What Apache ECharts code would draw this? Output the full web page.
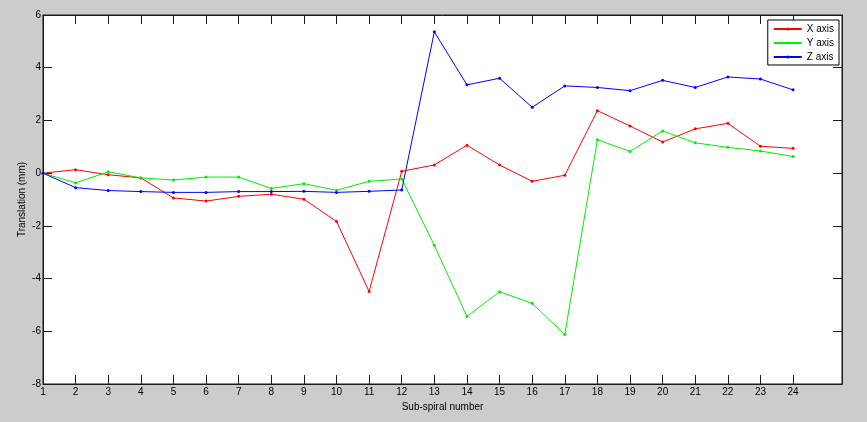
<!DOCTYPE html>
<html>
<head>
<meta charset="utf-8">
<script src="https://cdn.jsdelivr.net/npm/echarts@6/dist/echarts.min.js"></script>
<style>
html,body{margin:0;padding:0;background:#cccccc;}
#chart{width:867px;height:422px;}
</style>
</head>
<body>
<div id="chart"></div>
<script>
var subSpirals = [1,2,3,4,5,6,7,8,9,10,11,12,13,14,15,16,17,18,19,20,21,22,23,24];
var xAxisVals = [0,0.13,-0.06,-0.18,-0.94,-1.06,-0.88,-0.80,-0.99,-1.83,-4.49,0.07,0.31,1.06,0.31,-0.31,-0.08,2.37,1.79,1.18,1.68,1.89,1.02,0.94];
var yAxisVals = [0,-0.37,0.05,-0.18,-0.26,-0.15,-0.15,-0.58,-0.40,-0.65,-0.31,-0.22,-2.74,-5.44,-4.50,-4.94,-6.12,1.27,0.82,1.60,1.15,0.98,0.84,0.63];
var zAxisVals = [0,-0.55,-0.66,-0.70,-0.73,-0.73,-0.70,-0.70,-0.69,-0.73,-0.69,-0.64,5.36,3.35,3.60,2.50,3.31,3.25,3.13,3.52,3.25,3.65,3.57,3.16];
var seriesNames = ['X axis','Y axis','Z axis'];
var seriesColors = ['#ff0000','#00ee00','#0000ff'];

function pairs(vals){ return subSpirals.map(function(x,i){ return [x, vals[i]]; }); }
var allVals = [xAxisVals, yAxisVals, zAxisVals];

var font = 'Liberation Sans, Arial, sans-serif';
var chart = echarts.init(document.getElementById('chart'), null, {renderer:'canvas'});
var axLine = {show:true, onZero:false, lineStyle:{color:'#1a1a1a', width:1}};
var tick = {show:true, inside:true, length:9, lineStyle:{color:'#1a1a1a', width:1}};

chart.setOption({
  animation:false,
  backgroundColor:'#cccccc',
  textStyle:{fontFamily:font},
  grid:{left:43, top:15, right:25, bottom:38, show:true, backgroundColor:'#ffffff', borderColor:'#1a1a1a', borderWidth:1},
  legend:{
    data:seriesNames, orient:'vertical', right:28, top:20,
    backgroundColor:'#ffffff', borderColor:'#000000', borderWidth:1,
    padding:[4,5,3,5], itemWidth:28, itemHeight:4, itemGap:4,
    textStyle:{fontSize:10, color:'#000', fontFamily:font}
  },
  xAxis:[
    {type:'value', position:'bottom', min:1, max:25.5, interval:1,
     name:'Sub-spiral number', nameLocation:'middle', nameGap:18, nameMoveOverlap:false,
     nameTextStyle:{fontSize:10, color:'#000', fontFamily:font},
     axisLine:axLine,
     axisTick:Object.assign({customValues:subSpirals}, tick),
     axisLabel:{customValues:subSpirals, fontSize:10, color:'#000', margin:3, fontFamily:font},
     splitLine:{show:false}},
    {type:'value', position:'top', min:1, max:25.5, interval:1,
     axisLine:axLine,
     axisTick:Object.assign({customValues:subSpirals}, tick),
     axisLabel:{show:false}, splitLine:{show:false}}
  ],
  yAxis:[
    {type:'value', position:'left', min:-8, max:6, interval:2,
     name:'Translation (mm)', nameLocation:'middle', nameGap:16, nameMoveOverlap:false,
     nameTextStyle:{fontSize:10, color:'#000', fontFamily:font},
     axisLine:axLine, axisTick:tick,
     axisLabel:{fontSize:10, color:'#000', margin:2, fontFamily:font},
     splitLine:{show:false}},
    {type:'value', position:'right', min:-8, max:6, interval:2,
     axisLine:axLine, axisTick:tick, axisLabel:{show:false}, splitLine:{show:false}}
  ],
  series: allVals.map(function(v,i){
    return {
      name:seriesNames[i], type:'line', xAxisIndex:0, yAxisIndex:0,
      data:pairs(v), symbol:'circle', symbolSize:3, showSymbol:true,
      color:seriesColors[i],
      lineStyle:{color:seriesColors[i], width:1},
      itemStyle:{color:seriesColors[i]}
    };
  })
});
</script>
</body>
</html>
